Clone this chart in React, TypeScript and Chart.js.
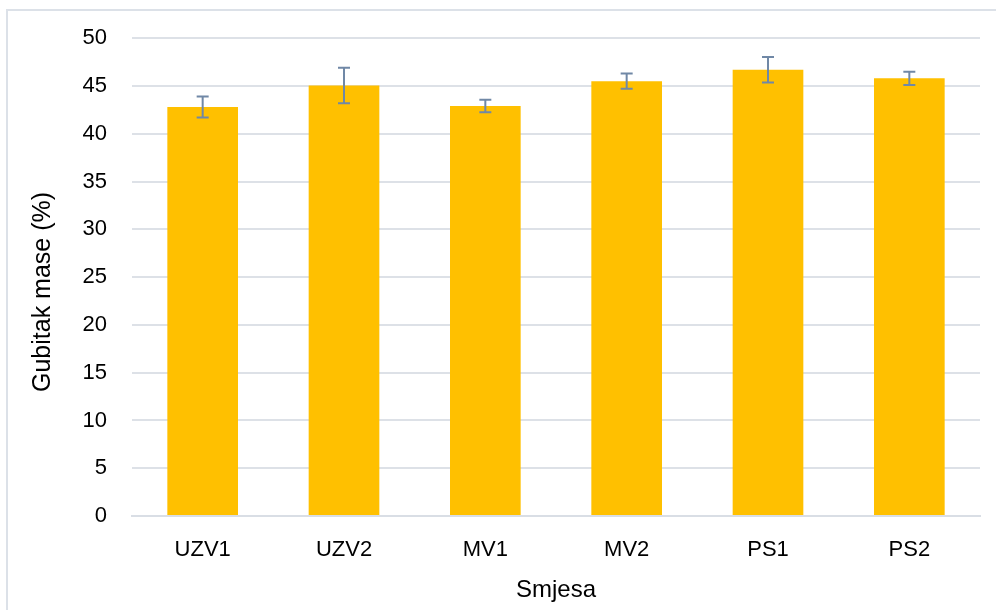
import React, { useEffect, useRef } from "react";
import { Chart, registerables } from "chart.js";

Chart.register(...registerables);

const categories = ["UZV1", "UZV2", "MV1", "MV2", "PS1", "PS2"];
const values = [42.8, 45.05, 42.9, 45.5, 46.7, 45.8];
const errors = [1.1, 1.85, 0.65, 0.8, 1.33, 0.7];
const yTitle = "Gubitak mase (%)";
const xTitle = "Smjesa";

const FONT = "'Liberation Sans', Arial, sans-serif";

const errorBarPlugin = {
  id: "errorBars",
  afterDatasetsDraw(chart: any) {
    const ctx = chart.ctx;
    const meta = chart.getDatasetMeta(0);
    const yScale = chart.scales.y;
    ctx.save();
    ctx.strokeStyle = "#7088A6";
    ctx.lineWidth = 2;
    meta.data.forEach((bar: any, i: number) => {
      const x = bar.x;
      const top = yScale.getPixelForValue(values[i] + errors[i]);
      const bot = yScale.getPixelForValue(values[i] - errors[i]);
      const cap = 6;
      ctx.beginPath();
      ctx.moveTo(x, top);
      ctx.lineTo(x, bot);
      ctx.moveTo(x - cap, top);
      ctx.lineTo(x + cap, top);
      ctx.moveTo(x - cap, bot);
      ctx.lineTo(x + cap, bot);
      ctx.stroke();
    });
    ctx.restore();
  },
};

const framePlugin = {
  id: "frame",
  beforeDraw(chart: any) {
    const ctx = chart.ctx;
    ctx.save();
    ctx.fillStyle = "#ffffff";
    ctx.fillRect(0, 0, chart.width, chart.height);
    ctx.strokeStyle = "#DCE1E8";
    ctx.lineWidth = 2;
    ctx.strokeRect(7, 10, chart.width + 20, chart.height + 20);
    ctx.restore();
  },
};

const yTitlePlugin = {
  id: "yTitle",
  afterDraw(chart: any) {
    const ctx = chart.ctx;
    ctx.save();
    ctx.translate(43, 292);
    ctx.rotate(-Math.PI / 2);
    ctx.fillStyle = "#000";
    ctx.font = `25px ${FONT}`;
    ctx.textAlign = "center";
    ctx.textBaseline = "middle";
    ctx.fillText(yTitle, 0, 0);
    ctx.restore();
  },
};

export default function App() {
  const ref = useRef<HTMLCanvasElement | null>(null);
  useEffect(() => {
    if (!ref.current) return;
    const chart = new Chart(ref.current, {
      type: "bar",
      data: {
        labels: categories,
        datasets: [
          {
            data: values,
            backgroundColor: "#FFC000",
            borderWidth: 0,
            categoryPercentage: 0.5,
            barPercentage: 1,
          },
        ],
      },
      options: {
        animation: false,
        responsive: false,
        maintainAspectRatio: false,
        layout: { padding: { top: 36, right: 16, bottom: 0, left: 0 } },
        plugins: {
          legend: { display: false },
          tooltip: { enabled: false },
        },
        scales: {
          x: {
            grid: { display: false, drawTicks: false },
            border: { display: true, color: "#D9DEE5", width: 2 },
            ticks: {
              color: "#000",
              padding: 21,
              font: { family: FONT, size: 22 },
            },
            title: {
              display: true,
              text: xTitle,
              color: "#000",
              font: { family: FONT, size: 24 },
              padding: { top: 0, bottom: 5 },
            },
            afterFit(scale: any) {
              scale.height = 94;
            },
          },
          y: {
            min: 0,
            max: 50,
            ticks: {
              stepSize: 5,
              color: "#000",
              padding: 25,
              font: { family: FONT, size: 22 },
            },
            grid: { color: "#DDE1E7", lineWidth: 2, drawTicks: false },
            border: { display: false },
            title: { display: false },
            afterFit(scale: any) {
              scale.width = 132;
            },
          },
        },
      },
      plugins: [framePlugin, errorBarPlugin, yTitlePlugin],
    });
    return () => chart.destroy();
  }, []);
  return (
    <div style={{ position: "fixed", left: 0, top: 0, width: 996, height: 610 }}>
      <canvas ref={ref} width={996} height={610} style={{ display: "block" }} />
    </div>
  );
}
